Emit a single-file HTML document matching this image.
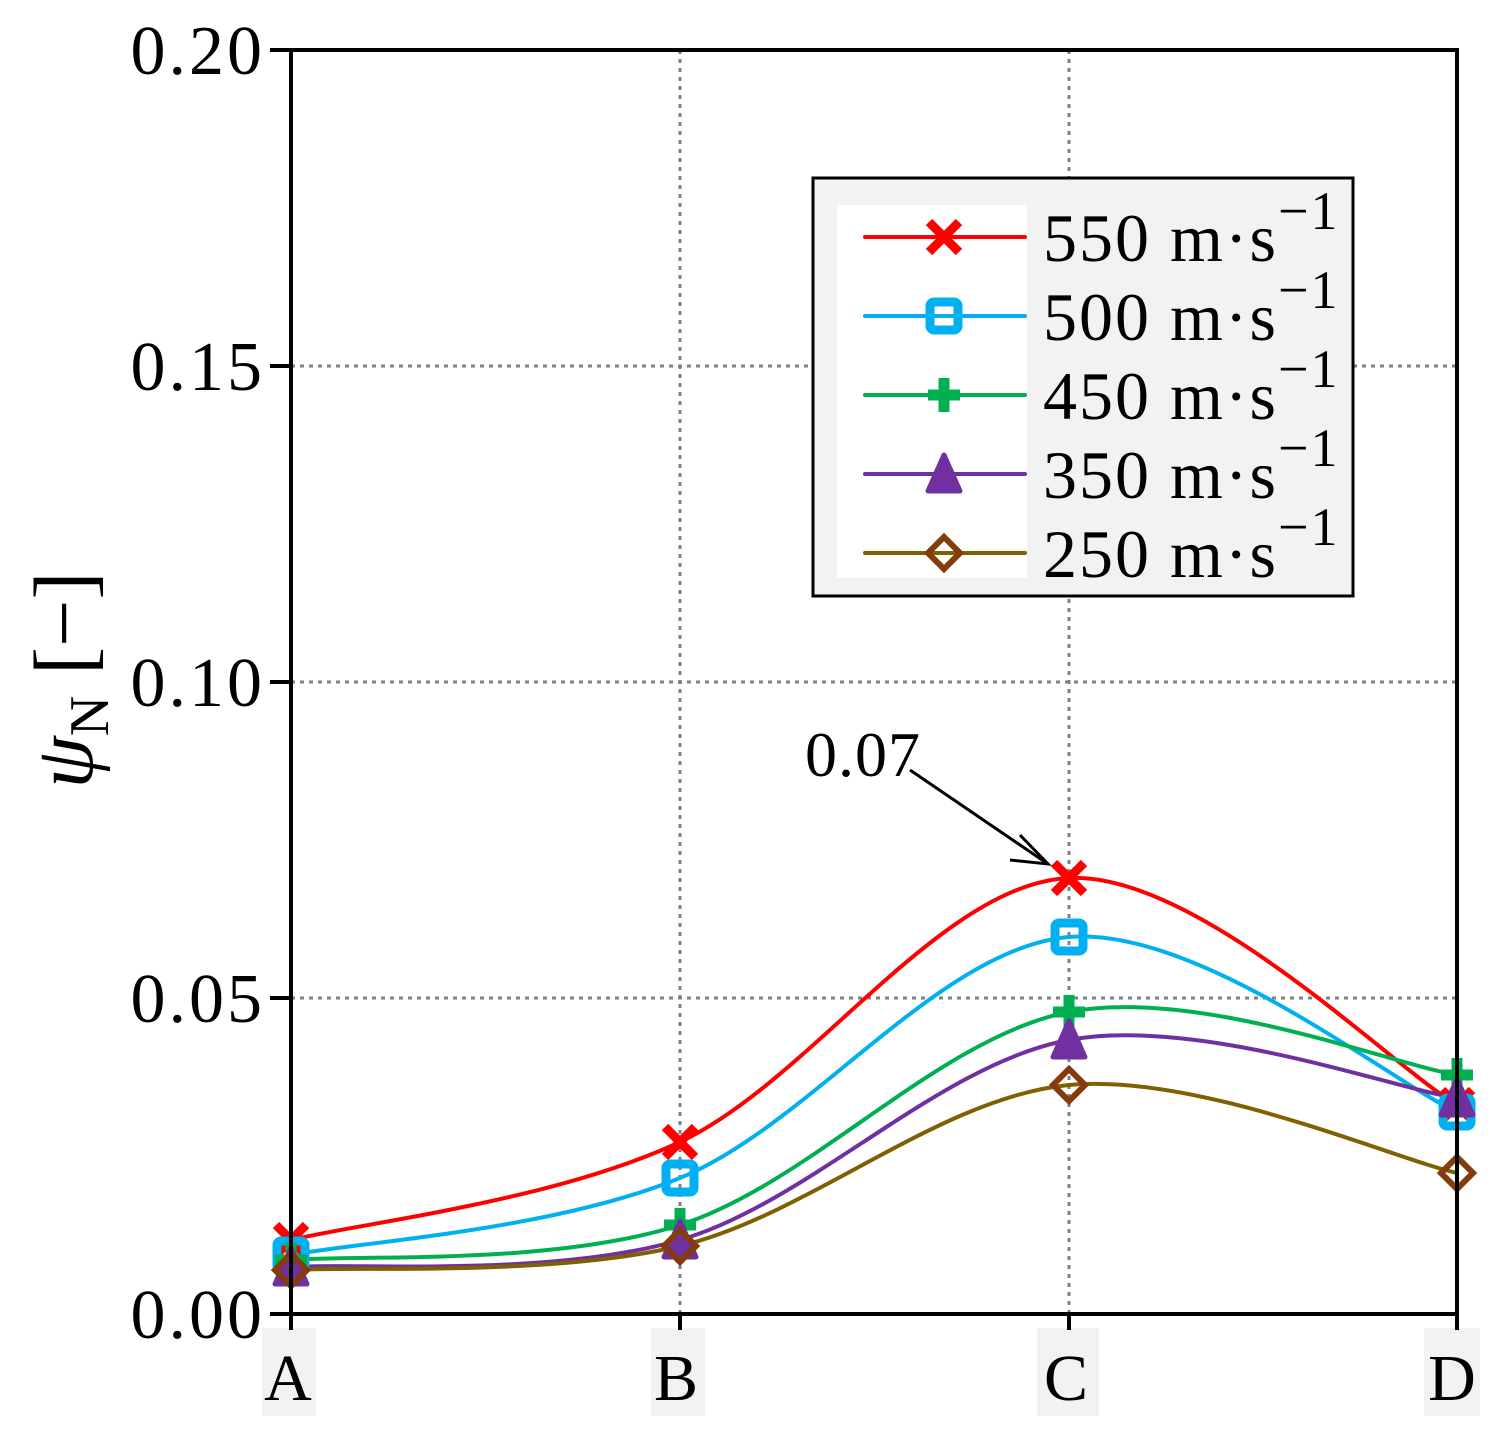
<!DOCTYPE html>
<html><head><meta charset="utf-8"><style>body{margin:0;background:#fff}</style></head>
<body>
<svg id="s" width="1501" height="1432" xmlns="http://www.w3.org/2000/svg" font-family="Liberation Serif, serif">
<g stroke="#808080" stroke-width="3" stroke-dasharray="4,5">
<line x1="291" y1="366" x2="1457" y2="366"/><line x1="291" y1="682" x2="1457" y2="682"/><line x1="291" y1="998" x2="1457" y2="998"/>
<line x1="680" y1="50" x2="680" y2="1314"/><line x1="1069" y1="50" x2="1069" y2="1314"/>
</g>
<g fill="#f2f2f2"><rect x="262" y="1328" width="54" height="88"/><rect x="651" y="1328" width="54" height="88"/><rect x="1037" y="1328" width="62" height="88"/><rect x="1424" y="1328" width="56" height="88"/></g>
<g font-size="66" text-anchor="middle"><text x="288" y="1400">A</text><text x="676" y="1400">B</text><text x="1066" y="1400">C</text><text x="1452" y="1400">D</text></g>
<g font-size="70" text-anchor="end" letter-spacing="3"><text x="265" y="74">0.20</text><text x="265" y="390">0.15</text><text x="265" y="706">0.10</text><text x="265" y="1022">0.05</text><text x="265" y="1338">0.00</text></g>
<g stroke="#000" stroke-width="4"><line x1="270" y1="50" x2="291" y2="50"/><line x1="270" y1="366" x2="291" y2="366"/><line x1="270" y1="682" x2="291" y2="682"/><line x1="270" y1="998" x2="291" y2="998"/><line x1="270" y1="1314" x2="291" y2="1314"/>
<line x1="291" y1="1314" x2="291" y2="1330"/><line x1="680" y1="1314" x2="680" y2="1330"/><line x1="1069" y1="1314" x2="1069" y2="1330"/><line x1="1457" y1="1314" x2="1457" y2="1330"/></g>
<text transform="translate(92,680) rotate(-90)" font-size="84" text-anchor="middle"><tspan font-style="italic">ψ</tspan><tspan font-size="56" dy="16">N</tspan><tspan dy="-16"> [−]</tspan></text>
<g id="curves" fill="none" stroke-width="4"></g>
<g id="marks"></g>
<rect x="291" y="50" width="1166" height="1264" fill="none" stroke="#000" stroke-width="4"/>
<text x="805" y="776" font-size="64" letter-spacing="1">0.07</text>
<line x1="910" y1="770" x2="1045" y2="862" stroke="#000" stroke-width="3"/>
<polyline points="1020,835 1048,864 1010,860" fill="none" stroke="#000" stroke-width="3"/>
<rect x="813" y="178" width="540" height="418" fill="#f2f2f2" stroke="#000" stroke-width="3"/>
<rect x="837" y="205" width="190" height="373" fill="#fff"/>
<g id="leg"></g>
</svg>
<script>
var X=[291,680,1069,1457];
var S=[
{c:"#ff0000",m:"x",y:[1240,1142,878,1105],t:"550"},
{c:"#00b0f0",m:"s",y:[1255,1178,937,1112],t:"500"},
{c:"#00b050",m:"p",y:[1260,1225,1012,1075],t:"450"},
{c:"#7030a0",m:"t",y:[1267,1240,1040,1098],t:"350"},
{c:"#806000",m:"d",mc:"#843c0c",y:[1270,1246,1085,1173],t:"250"}];
var NS="http://www.w3.org/2000/svg";
function el(n,a,p){var e=document.createElementNS(NS,n);for(var k in a)e.setAttribute(k,a[k]);p.appendChild(e);return e;}
function mk(type,x,y,c,p){
 if(type=="x"){el("path",{d:"M"+(x-15)+" "+(y-15)+"L"+(x+15)+" "+(y+15)+"M"+(x+15)+" "+(y-15)+"L"+(x-15)+" "+(y+15),stroke:c,"stroke-width":9},p);}
 else if(type=="s"){el("rect",{x:x-14,y:y-14,width:28,height:28,rx:4,fill:"none",stroke:c,"stroke-width":9},p);}
 else if(type=="p"){el("path",{d:"M"+x+" "+(y-17)+"V"+(y+17)+"M"+(x-16)+" "+y+"H"+(x+16),stroke:c,"stroke-width":11},p);}
 else if(type=="t"){el("path",{d:"M"+x+" "+(y-19)+"L"+(x+16)+" "+(y+17)+"L"+(x-16)+" "+(y+17)+"Z",fill:c,stroke:c,"stroke-width":5,"stroke-linejoin":"round"},p);}
 else {el("path",{d:"M"+x+" "+(y-16)+"L"+(x+16)+" "+y+"L"+x+" "+(y+16)+"L"+(x-16)+" "+y+"Z",fill:"none",stroke:c,"stroke-width":6},p);}
}
var cg=document.getElementById("curves"),mg=document.getElementById("marks"),lg=document.getElementById("leg");
S.forEach(function(s,i){
 var P=X.map(function(x,j){return [x,s.y[j]];});
 var d="M"+P[0][0]+" "+P[0][1];
 for(var j=0;j<3;j++){var p0=P[j>0?j-1:0],p1=P[j],p2=P[j+1],p3=P[j<2?j+2:3];var k=1/3;
  d+="C"+(p1[0]+(p2[0]-p0[0])*k/2)+" "+(p1[1]+(p2[1]-p0[1])*k/2)+" "+(p2[0]-(p3[0]-p1[0])*k/2)+" "+(p2[1]-(p3[1]-p1[1])*k/2)+" "+p2[0]+" "+p2[1];}
 el("path",{d:d,stroke:s.c},cg);
 var ly=237+i*79;
 el("line",{x1:865,y1:ly,x2:1025,y2:ly,stroke:s.c,"stroke-width":4,"stroke-linecap":"round"},lg);
 mk(s.m,944,ly,s.mc||s.c,lg);
 var t=el("text",{x:1043,y:ly+24,"font-size":68,"letter-spacing":2},lg);t.textContent=s.t+" m·s";
 var sp=el("tspan",{dy:-32,"font-size":54},t);sp.textContent="−1";
});
S.forEach(function(s){X.forEach(function(x,j){mk(s.m,x,s.y[j],s.mc||s.c,mg);});});
</script>
</body></html>
